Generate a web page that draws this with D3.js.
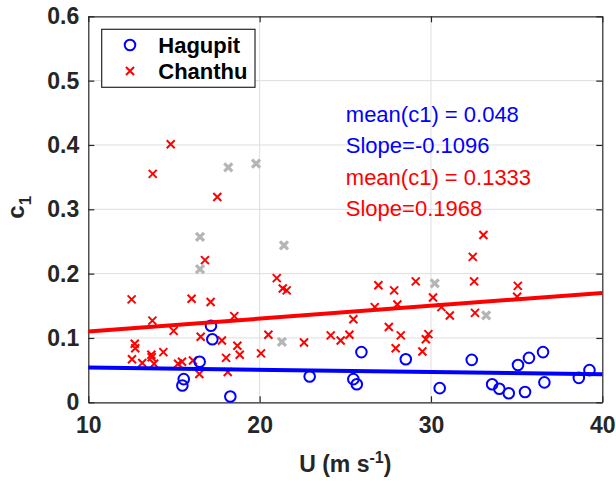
<!DOCTYPE html>
<html>
<head>
<meta charset="utf-8">
<script src="https://cdn.jsdelivr.net/npm/d3@7"></script>
<style>
  body { margin: 0; background: #fff; }
  text { font-family: "Liberation Sans", Arial, sans-serif; }
</style>
</head>
<body>
<div class="chart"></div>
<script>
// Hagupit (blue circles)
var hagupitU  = [17.16, 17.24, 16.5, 15.57, 15.49, 18.29, 22.92, 25.47, 25.67, 25.94, 28.53, 30.51,
                 32.38, 33.57, 33.99, 34.54, 35.08, 35.49, 35.72, 36.54, 36.62, 38.63, 39.25];
var hagupitC1 = [0.119, 0.098, 0.063, 0.036, 0.026, 0.009, 0.040, 0.036, 0.028, 0.078, 0.067, 0.022,
                 0.066, 0.028, 0.021, 0.014, 0.058, 0.016, 0.069, 0.078, 0.031, 0.038, 0.050];

// Chanthu (red crosses)
var chanthuU  = [12.53, 12.71, 12.74, 12.55, 13.15, 13.68, 13.70, 13.84, 13.74, 14.38, 14.98, 15.24,
                 15.47, 16.03, 16.11, 16.48, 16.56, 16.81, 17.14, 17.80, 18.04, 18.14, 18.52, 18.70,
                 18.84, 20.08, 20.51, 21.00, 21.35, 21.58, 22.59, 24.15, 24.73, 25.24, 25.47, 26.72,
                 26.93, 27.54, 27.85, 28.04, 28.24, 27.94, 29.11, 29.50, 29.70, 29.85, 30.12, 30.61,
                 31.10, 32.44, 33.06, 32.52, 32.57, 35.07, 35.03, 14.81, 13.76, 17.53];
var chanthuC1 = [0.160, 0.091, 0.084, 0.067, 0.061, 0.074, 0.070, 0.060, 0.127, 0.078, 0.111, 0.060,
                 0.063, 0.161, 0.065, 0.044, 0.102, 0.221, 0.156, 0.096, 0.069, 0.047, 0.134, 0.088,
                 0.074, 0.076, 0.105, 0.193, 0.177, 0.174, 0.093, 0.104, 0.096, 0.105, 0.129, 0.148,
                 0.182, 0.117, 0.174, 0.152, 0.104, 0.084, 0.188, 0.079, 0.098, 0.106, 0.163, 0.148,
                 0.135, 0.226, 0.260, 0.188, 0.139, 0.181, 0.164, 0.401, 0.355, 0.319];

// excluded points (gray crosses)
var grayU  = [18.17, 19.79, 16.52, 16.52, 21.42, 21.30, 30.22, 33.22];
var grayC1 = [0.365, 0.371, 0.257, 0.207, 0.244, 0.094, 0.185, 0.135];

// fitted lines, end points
var fitU = [10, 40];
var hagupitFit = [0.054, 0.0435];
var chanthuFit = [0.110, 0.170];

var xTicks = [10, 20, 30, 40];
var yTicks = [0, 0.1, 0.2, 0.3, 0.4, 0.5, 0.6];
var notes = [
  { text: "mean(c1) = 0.048", color: "#0000ff" },
  { text: "Slope=-0.1096", color: "#0000ff" },
  { text: "mean(c1) = 0.1333", color: "#ff0000" },
  { text: "Slope=0.1968", color: "#ff0000" }
];

var width = 616, height = 481;
var pLeft = 88.3, pRight = 602.3, pTop = 16.3, pBottom = 402.3;

var svg = d3.select(".chart").append("svg")
    .attr("width", width)
    .attr("height", height);

var x = d3.scaleLinear().domain([10, 40]).range([pLeft, pRight]);
var y = d3.scaleLinear().domain([0, 0.6]).range([pBottom, pTop]);

// grid
svg.append("g").selectAll("line")
    .data(xTicks.slice(1, -1))
    .enter().append("line")
    .attr("x1", function(d) { return x(d); })
    .attr("x2", function(d) { return x(d); })
    .attr("y1", pTop).attr("y2", pBottom)
    .attr("stroke", "#dedede").attr("stroke-width", 1);
svg.append("g").selectAll("line")
    .data(yTicks.slice(1, -1))
    .enter().append("line")
    .attr("y1", function(d) { return y(d); })
    .attr("y2", function(d) { return y(d); })
    .attr("x1", pLeft).attr("x2", pRight)
    .attr("stroke", "#dedede").attr("stroke-width", 1);

// axes
function styleAxis(g, labels) {
  g.select(".domain").attr("stroke", "#262626").attr("stroke-width", 1.2);
  g.selectAll(".tick line").attr("stroke", "#262626").attr("stroke-width", 1.2);
  g.selectAll(".tick text")
    .attr("fill", "#262626")
    .style("font-size", "23px")
    .style("font-weight", "bold")
    .style("display", labels ? null : "none");
}

svg.append("g")
    .attr("transform", "translate(0," + pBottom + ")")
    .call(d3.axisBottom(x).tickValues(xTicks).tickSizeInner(-6).tickSizeOuter(0).tickPadding(14))
    .call(styleAxis, true);
svg.append("g")
    .attr("transform", "translate(0," + pTop + ")")
    .call(d3.axisTop(x).tickValues(xTicks).tickSizeInner(-6).tickSizeOuter(0))
    .call(styleAxis, false);
svg.append("g")
    .attr("transform", "translate(" + pLeft + ",0)")
    .call(d3.axisLeft(y).tickValues(yTicks).tickFormat(d3.format("~g")).tickSizeInner(-6).tickSizeOuter(0).tickPadding(9))
    .call(styleAxis, true);
svg.append("g")
    .attr("transform", "translate(" + pRight + ",0)")
    .call(d3.axisRight(y).tickValues(yTicks).tickSizeInner(-6).tickSizeOuter(0))
    .call(styleAxis, false);

var cross = "M-4,-4L4,4M-4,4L4,-4";

// gray crosses
svg.append("g").selectAll("path")
    .data(grayU)
    .enter().append("path")
    .attr("d", cross)
    .attr("transform", function(d, i) { return "translate(" + x(d) + "," + y(grayC1[i]) + ")"; })
    .attr("stroke", "#b5b5b5").attr("stroke-width", 3.2).attr("fill", "none");

// red crosses
svg.append("g").selectAll("path")
    .data(chanthuU)
    .enter().append("path")
    .attr("d", cross)
    .attr("transform", function(d, i) { return "translate(" + x(d) + "," + y(chanthuC1[i]) + ")"; })
    .attr("stroke", "#ff0000").attr("stroke-width", 2).attr("fill", "none");

// blue circles
svg.append("g").selectAll("circle")
    .data(hagupitU)
    .enter().append("circle")
    .attr("cx", function(d) { return x(d); })
    .attr("cy", function(d, i) { return y(hagupitC1[i]); })
    .attr("r", 5.3)
    .attr("stroke", "#0000ff").attr("stroke-width", 2).attr("fill", "none");

// fit lines
var line = d3.line()
    .x(function(d) { return x(d[0]); })
    .y(function(d) { return y(d[1]); });

svg.append("path")
    .attr("d", line(fitU.map(function(u, i) { return [u, chanthuFit[i]]; })))
    .attr("stroke", "#ff0000").attr("stroke-width", 4).attr("fill", "none");
svg.append("path")
    .attr("d", line(fitU.map(function(u, i) { return [u, hagupitFit[i]]; })))
    .attr("stroke", "#0000ff").attr("stroke-width", 4).attr("fill", "none");

// annotations
svg.append("g").selectAll("text")
    .data(notes)
    .enter().append("text")
    .attr("x", x(25.03))
    .attr("y", function(d, i) { return 121.7 + i * 31.5; })
    .attr("fill", function(d) { return d.color; })
    .style("font-size", "22px")
    .text(function(d) { return d.text; });

// legend
var legend = svg.append("g");
legend.append("rect")
    .attr("x", 101.7).attr("y", 29.3)
    .attr("width", 153.3).attr("height", 58)
    .attr("fill", "#fff").attr("stroke", "#262626").attr("stroke-width", 1.2);
legend.append("circle")
    .attr("cx", 130).attr("cy", 45).attr("r", 5.3)
    .attr("stroke", "#0000ff").attr("stroke-width", 2).attr("fill", "none");
legend.append("path")
    .attr("d", cross)
    .attr("transform", "translate(130,71)")
    .attr("stroke", "#ff0000").attr("stroke-width", 2).attr("fill", "none");
legend.selectAll("text")
    .data(["Hagupit", "Chanthu"])
    .enter().append("text")
    .attr("x", 158.3)
    .attr("y", function(d, i) { return 53.3 + i * 26; })
    .attr("fill", "#000")
    .style("font-size", "22px")
    .style("font-weight", "bold")
    .text(function(d) { return d; });

// axis labels
var xl = svg.append("text")
    .attr("x", (pLeft + pRight) / 2)
    .attr("y", 472)
    .attr("text-anchor", "middle")
    .attr("fill", "#262626")
    .style("font-size", "23px")
    .style("font-weight", "bold");
xl.append("tspan").text("U (m s");
xl.append("tspan").attr("dy", -9).style("font-size", "16px").text("-1");
xl.append("tspan").attr("dy", 9).text(")");

var yl = svg.append("text")
    .attr("transform", "translate(24," + ((pTop + pBottom) / 2 - 2) + ") rotate(-90)")
    .attr("text-anchor", "middle")
    .attr("fill", "#262626")
    .style("font-size", "24px")
    .style("font-weight", "bold");
yl.append("tspan").text("c");
yl.append("tspan").attr("dy", 7).style("font-size", "17px").text("1");
</script>
</body>
</html>
